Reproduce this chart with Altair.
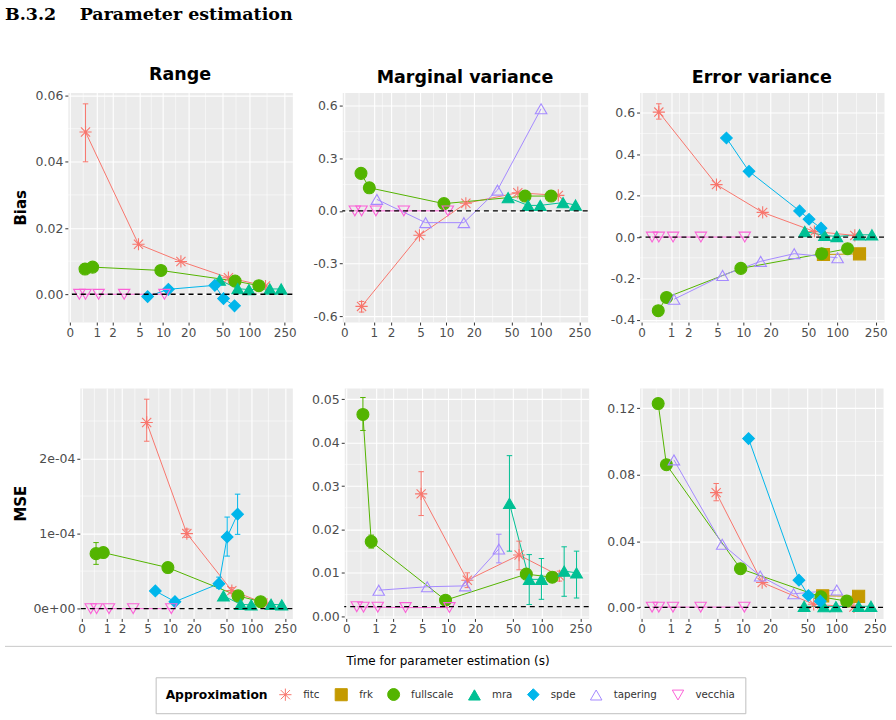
import altair as alt
import pandas as pd

# ---------------------------------------------------------------- categories
METHODS = ["fitc", "frk", "fullscale", "mra", "spde", "tapering", "vecchia"]
COLORS = ["#F8766D", "#C49A00", "#53B400", "#00C094", "#00B6EB", "#A58AFF", "#FB61D7"]
FILLS = ["transparent", "#C49A00", "#53B400", "#00C094", "#00B6EB", "transparent", "transparent"]
ASTERISK = "M-0.75,-0.75L0.75,0.75M-0.75,0.75L0.75,-0.75M0,-1L0,1M-1,0L1,0"
SHAPES = [ASTERISK, "square", "circle", "triangle-up", "diamond", "triangle-up", "triangle-down"]
SIZES = [150, 130, 165, 190, 120, 200, 190]

PARAMS = ["Range", "Marginal variance", "Error variance"]
METRICS = ["Bias", "MSE"]
X_TICKS = [0, 1, 2, 5, 10, 20, 50, 100, 250]
X_MINOR = [0.414, 1.449, 3.243, 7.124, 14.2, 31.7, 70.7, 158.2]

# ---------------------------------------------------------------- timings (s)
FITC_TIME = [0.5, 4.85, 16.4, 58, 152]
FRK_TIME = [72, 170]
FULLSCALE_TIME = [0.48, 0.8, 9.4, 69, 128]
MRA_TIME = [46, 74, 99, 170, 228]
SPDE_TIME = [6.4, 11.6, 40.6, 51, 68]
TAPERING_TIME = [1.15, 5.75, 15.6, 35.6, 101]
VECCHIA_TIME = [0.28, 0.5, 1.1, 3.05, 10.4]

# ---------------------------------------------------------------- fitc
FITC_BIAS_RANGE = [0.049, 0.0151, 0.0099, 0.0050, 0.0025]
FITC_BIAS_RANGE_CI = [(0.040, 0.0575), None, None, None, None]
FITC_BIAS_MARG = [-0.543, -0.139, 0.043, 0.103, 0.088]
FITC_BIAS_MARG_CI = [(-0.575, -0.515), None, None, None, None]
FITC_BIAS_ERR = [0.603, 0.253, 0.119, 0.027, 0.008]
FITC_BIAS_ERR_CI = [(0.569, 0.643), None, None, None, None]
FITC_MSE_RANGE = [None, 2.48e-4, 1.0e-4, 0.24e-4, 0.06e-4]
FITC_MSE_RANGE_CI = [None, (2.23e-4, 2.79e-4), (0.95e-4, 1.06e-4), (0.20e-4, 0.28e-4), None]
FITC_MSE_MARG = [None, 0.0282, 0.0083, 0.0141, 0.0093]
FITC_MSE_MARG_CI = [None, (0.0232, 0.0333), (0.0066, 0.0100), (0.0107, 0.0173), (0.0081, 0.0104)]
FITC_MSE_ERR = [None, 0.0692, 0.0151, 0.0020, 0.0004]
FITC_MSE_ERR_CI = [None, (0.0643, 0.0747), None, None, None]

# ---------------------------------------------------------------- frk
FRK_BIAS_ERR = [-0.084, -0.081]
FRK_MSE_ERR = [0.0071, 0.0068]

# ---------------------------------------------------------------- fullscale
FULLSCALE_BIAS_RANGE = [0.0076, 0.0082, 0.0072, 0.0040, 0.0026]
FULLSCALE_BIAS_MARG = [0.213, 0.131, 0.041, 0.084, 0.084]
FULLSCALE_BIAS_ERR = [-0.355, -0.291, -0.151, -0.080, -0.056]
FULLSCALE_MSE_RANGE = [0.733e-4, 0.747e-4, 0.547e-4, 0.17e-4, 0.093e-4]
FULLSCALE_MSE_RANGE_CI = [(0.59e-4, 0.88e-4), None, None, None, None]
FULLSCALE_MSE_MARG = [0.0465, 0.0172, 0.0037, 0.0097, 0.0090]
FULLSCALE_MSE_MARG_CI = [(0.0428, 0.0504), (0.0157, 0.0187), None, None, (0.0082, 0.0098)]
FULLSCALE_MSE_ERR = [0.1228, 0.0860, 0.0234, 0.0065, 0.0039]

# ---------------------------------------------------------------- mra
MRA_BIAS_RANGE = [0.0043, 0.0017, 0.0014, 0.0016, 0.0016]
MRA_BIAS_MARG = [0.075, 0.031, 0.031, 0.047, 0.033]
MRA_BIAS_ERR = [0.027, 0.008, 0.003, 0.011, 0.011]
MRA_MSE_RANGE = [0.17e-4, 0.058e-4, 0.05e-4, 0.058e-4, 0.05e-4]
MRA_MSE_MARG = [0.0260, 0.0085, 0.0085, 0.0104, 0.0100]
MRA_MSE_MARG_CI = [(0.015, 0.037), (0.0027, 0.0142), (0.0039, 0.0133), (0.0046, 0.0160), (0.0042, 0.0150)]
MRA_MSE_ERR = [0.0008, 0.0006, 0.0006, 0.0008, 0.0008]

# ---------------------------------------------------------------- spde
SPDE_BIAS_RANGE = [-0.0007, 0.0015, 0.0027, -0.0013, -0.0035]
SPDE_BIAS_ERR = [0.478, 0.317, 0.126, 0.086, 0.043]
SPDE_MSE_RANGE = [0.236e-4, 0.093e-4, 0.333e-4, 0.956e-4, 1.259e-4]
SPDE_MSE_RANGE_CI = [None, None, (0.27e-4, 0.42e-4), (0.70e-4, 1.22e-4), (0.99e-4, 1.525e-4)]
SPDE_MSE_ERR = [None, 0.1017, 0.0165, 0.0073, 0.0039]

# ---------------------------------------------------------------- tapering
TAPERING_BIAS_MARG = [0.065, -0.067, -0.067, 0.118, 0.580]
TAPERING_BIAS_ERR = [-0.300, -0.185, -0.117, -0.080, -0.100]
TAPERING_MSE_MARG = [0.0060, 0.0068, 0.0070, 0.0155, None]
TAPERING_MSE_MARG_CI = [None, None, None, (0.0123, 0.0189), None]
TAPERING_MSE_ERR = [0.0889, 0.0381, 0.0190, 0.0083, 0.0106]

# ---------------------------------------------------------------- vecchia
VECCHIA_BIAS_RANGE = [0.0, 0.0, 0.0, 0.0, 0.0]
VECCHIA_BIAS_MARG = [0.0, 0.0, 0.0, 0.0, 0.0]
VECCHIA_BIAS_ERR = [0.0, 0.0, 0.0, 0.0, 0.0]
VECCHIA_MSE_RANGE = [0.0, 0.0, 0.0, 0.0, 0.0]
VECCHIA_MSE_MARG = [0.0022, 0.0021, 0.0021, 0.0020, 0.0020]
VECCHIA_MSE_ERR = [0.0003, 0.0003, 0.0003, 0.0003, 0.0003]

# dashed reference level per panel
REF_LEVEL = {("Range", "Bias"): 0.0, ("Marginal variance", "Bias"): 0.0,
             ("Error variance", "Bias"): 0.0, ("Range", "MSE"): 0.0,
             ("Marginal variance", "MSE"): 0.0022, ("Error variance", "MSE"): 0.0002}

# ---------------------------------------------------------------- axes per panel
Y_DOMAIN = {("Range", "Bias"): [-0.0084, 0.0609],
            ("Marginal variance", "Bias"): [-0.632, 0.672],
            ("Error variance", "Bias"): [-0.41, 0.697],
            ("Range", "MSE"): [-1.3e-5, 2.94e-4],
            ("Marginal variance", "MSE"): [-0.0005, 0.0526],
            ("Error variance", "MSE"): [-0.0065, 0.1322]}
Y_TICKS = {("Range", "Bias"): [0, 0.02, 0.04, 0.06],
           ("Marginal variance", "Bias"): [-0.6, -0.3, 0, 0.3, 0.6],
           ("Error variance", "Bias"): [-0.4, -0.2, 0, 0.2, 0.4, 0.6],
           ("Range", "MSE"): [0, 1e-4, 2e-4],
           ("Marginal variance", "MSE"): [0, 0.01, 0.02, 0.03, 0.04, 0.05],
           ("Error variance", "MSE"): [0, 0.04, 0.08, 0.12]}
Y_MINOR = {("Range", "Bias"): [0.01, 0.03, 0.05],
           ("Marginal variance", "Bias"): [-0.45, -0.15, 0.15, 0.45],
           ("Error variance", "Bias"): [-0.3, -0.1, 0.1, 0.3, 0.5],
           ("Range", "MSE"): [0.5e-4, 1.5e-4, 2.5e-4],
           ("Marginal variance", "MSE"): [0.005, 0.015, 0.025, 0.035, 0.045],
           ("Error variance", "MSE"): [0.02, 0.06, 0.10]}
Y_LABEL_EXPR = {("Range", "Bias"): "replace(format(datum.value, '.2f'), '\u2212', '-')",
                ("Marginal variance", "Bias"): "replace(format(datum.value, '.1f'), '\u2212', '-')",
                ("Error variance", "Bias"): "replace(format(datum.value, '.1f'), '\u2212', '-')",
                ("Range", "MSE"): "datum.value == 0 ? '0e+00' : format(datum.value * 10000, '.0f') + 'e-04'",
                ("Marginal variance", "MSE"): "format(datum.value, '.2f')",
                ("Error variance", "MSE"): "format(datum.value, '.2f')"}

# ---------------------------------------------------------------- long table
SERIES = [
    ("fitc", FITC_TIME, "Range", "Bias", FITC_BIAS_RANGE, FITC_BIAS_RANGE_CI),
    ("fitc", FITC_TIME, "Marginal variance", "Bias", FITC_BIAS_MARG, FITC_BIAS_MARG_CI),
    ("fitc", FITC_TIME, "Error variance", "Bias", FITC_BIAS_ERR, FITC_BIAS_ERR_CI),
    ("fitc", FITC_TIME, "Range", "MSE", FITC_MSE_RANGE, FITC_MSE_RANGE_CI),
    ("fitc", FITC_TIME, "Marginal variance", "MSE", FITC_MSE_MARG, FITC_MSE_MARG_CI),
    ("fitc", FITC_TIME, "Error variance", "MSE", FITC_MSE_ERR, FITC_MSE_ERR_CI),
    ("frk", FRK_TIME, "Error variance", "Bias", FRK_BIAS_ERR, None),
    ("frk", FRK_TIME, "Error variance", "MSE", FRK_MSE_ERR, None),
    ("fullscale", FULLSCALE_TIME, "Range", "Bias", FULLSCALE_BIAS_RANGE, None),
    ("fullscale", FULLSCALE_TIME, "Marginal variance", "Bias", FULLSCALE_BIAS_MARG, None),
    ("fullscale", FULLSCALE_TIME, "Error variance", "Bias", FULLSCALE_BIAS_ERR, None),
    ("fullscale", FULLSCALE_TIME, "Range", "MSE", FULLSCALE_MSE_RANGE, FULLSCALE_MSE_RANGE_CI),
    ("fullscale", FULLSCALE_TIME, "Marginal variance", "MSE", FULLSCALE_MSE_MARG, FULLSCALE_MSE_MARG_CI),
    ("fullscale", FULLSCALE_TIME, "Error variance", "MSE", FULLSCALE_MSE_ERR, None),
    ("mra", MRA_TIME, "Range", "Bias", MRA_BIAS_RANGE, None),
    ("mra", MRA_TIME, "Marginal variance", "Bias", MRA_BIAS_MARG, None),
    ("mra", MRA_TIME, "Error variance", "Bias", MRA_BIAS_ERR, None),
    ("mra", MRA_TIME, "Range", "MSE", MRA_MSE_RANGE, None),
    ("mra", MRA_TIME, "Marginal variance", "MSE", MRA_MSE_MARG, MRA_MSE_MARG_CI),
    ("mra", MRA_TIME, "Error variance", "MSE", MRA_MSE_ERR, None),
    ("spde", SPDE_TIME, "Range", "Bias", SPDE_BIAS_RANGE, None),
    ("spde", SPDE_TIME, "Error variance", "Bias", SPDE_BIAS_ERR, None),
    ("spde", SPDE_TIME, "Range", "MSE", SPDE_MSE_RANGE, SPDE_MSE_RANGE_CI),
    ("spde", SPDE_TIME, "Error variance", "MSE", SPDE_MSE_ERR, None),
    ("tapering", TAPERING_TIME, "Marginal variance", "Bias", TAPERING_BIAS_MARG, None),
    ("tapering", TAPERING_TIME, "Error variance", "Bias", TAPERING_BIAS_ERR, None),
    ("tapering", TAPERING_TIME, "Marginal variance", "MSE", TAPERING_MSE_MARG, TAPERING_MSE_MARG_CI),
    ("tapering", TAPERING_TIME, "Error variance", "MSE", TAPERING_MSE_ERR, None),
    ("vecchia", VECCHIA_TIME, "Range", "Bias", VECCHIA_BIAS_RANGE, None),
    ("vecchia", VECCHIA_TIME, "Marginal variance", "Bias", VECCHIA_BIAS_MARG, None),
    ("vecchia", VECCHIA_TIME, "Error variance", "Bias", VECCHIA_BIAS_ERR, None),
    ("vecchia", VECCHIA_TIME, "Range", "MSE", VECCHIA_MSE_RANGE, None),
    ("vecchia", VECCHIA_TIME, "Marginal variance", "MSE", VECCHIA_MSE_MARG, None),
    ("vecchia", VECCHIA_TIME, "Error variance", "MSE", VECCHIA_MSE_ERR, None),
]

records = []
for method, times, param, metric, values, cis in SERIES:
    for i, (t, v) in enumerate(zip(times, values)):
        if v is None:
            continue
        ci = cis[i] if cis else None
        records.append({
            "approx": method, "order": METHODS.index(method), "time": t,
            "param": param, "metric": metric, "value": v,
            "lo": ci[0] if ci else None, "hi": ci[1] if ci else None,
        })
df = pd.DataFrame(records).sort_values(["order", "time"]).reset_index(drop=True)

# ---------------------------------------------------------------- shared encodings
FONT = "DejaVu Sans"
LEGEND_TITLE = "Approximation"
x_scale = alt.Scale(type="symlog", constant=1, domain=[-0.05, 304], nice=False, zero=False)
stroke_scale = alt.Scale(domain=METHODS, range=COLORS)
fill_scale = alt.Scale(domain=METHODS, range=FILLS)
shape_scale = alt.Scale(domain=METHODS, range=SHAPES)
size_scale = alt.Scale(domain=METHODS, range=SIZES)

legend = alt.Legend(
    title=LEGEND_TITLE, orient="none", legendX=151, legendY=586, direction="horizontal",
    titleOrient="left", titleFontSize=12.3, titleFontWeight="bold", titleColor="black",
    labelFontSize=10.3, labelColor="#333333", symbolSize=150, symbolStrokeWidth=1,
    labelOffset=11, columnPadding=12, padding=10, strokeColor="#BFBFBF",
    titlePadding=10, cornerRadius=0,
)

x_axis = alt.Axis(values=X_TICKS, format="d", grid=True, gridColor="white", gridWidth=1.1,
                  domain=False, tickColor="#333333", tickSize=3, labelFontSize=12,
                  labelColor="#4D4D4D", labelPadding=2, labelOverlap=False,
                  labelFlush=False, title=None)

ROW_W = {"Bias": [225, 246, 245], "MSE": [213, 245, 244]}
ROW_H = {"Bias": 230, "MSE": 231}
# tick-label band on the left of each panel
Y_EXTENT = {"Bias": [34, 38, 41], "MSE": [46, 40, 40]}
COL_GAP = 6


def transparent_view():
    return alt.ViewBackground(fill="transparent", stroke="transparent")


def spacer(height):
    # one-pixel cell that anchors the left edge of a row
    return alt.Chart(pd.DataFrame({"v": [0]})).mark_rule(
        strokeWidth=0, strokeOpacity=0).encode(
        x=alt.value(0), x2=alt.value(0), y=alt.value(0), y2=alt.value(0)
    ).properties(width=1, height=height, view=transparent_view())


def panel(param, metric, col):
    key = (param, metric)
    d = df[(df.param == param) & (df.metric == metric)]
    y_scale = alt.Scale(domain=Y_DOMAIN[key], nice=False, zero=False)
    ext = Y_EXTENT[metric][col]
    y_axis = alt.Axis(values=Y_TICKS[key], labelExpr=Y_LABEL_EXPR[key], grid=True,
                      gridColor="white", gridWidth=1.1, domain=False,
                      tickColor="#333333", tickSize=3, labelFontSize=12.5,
                      labelColor="#4D4D4D", labelPadding=2,
                      minExtent=ext, maxExtent=ext,
                      title=metric if col == 0 else None, titleFontSize=15,
                      titleFontWeight="bold", titleColor="black", titlePadding=5)

    def xq(field):
        return alt.X(field, scale=x_scale, axis=x_axis)

    def yq(field):
        return alt.Y(field, scale=y_scale, axis=y_axis)

    stroke_enc = alt.Stroke("approx:N", scale=stroke_scale, legend=legend)

    minor_x = alt.Chart(pd.DataFrame({"time": X_MINOR})).mark_rule(
        color="white", strokeWidth=0.55).encode(x=xq("time:Q"))
    minor_y = alt.Chart(pd.DataFrame({"value": Y_MINOR[key]})).mark_rule(
        color="white", strokeWidth=0.55).encode(y=yq("value:Q"))

    base = alt.Chart(d)
    lines = base.mark_line(strokeWidth=1).encode(
        x=xq("time:Q"), y=yq("value:Q"), stroke=stroke_enc, order="time:Q")
    bars_src = base.transform_filter("isValid(datum.lo)")
    bars = bars_src.mark_rule(strokeWidth=1).encode(
        x=xq("time:Q"), y=yq("lo:Q"), y2="hi:Q", stroke=stroke_enc)
    cap_lo = bars_src.mark_point(shape="stroke", size=30, strokeWidth=1, opacity=1).encode(
        x=xq("time:Q"), y=yq("lo:Q"), stroke=stroke_enc)
    cap_hi = bars_src.mark_point(shape="stroke", size=30, strokeWidth=1, opacity=1).encode(
        x=xq("time:Q"), y=yq("hi:Q"), stroke=stroke_enc)
    points = base.mark_point(strokeWidth=1.1, opacity=1).encode(
        x=xq("time:Q"), y=yq("value:Q"),
        stroke=stroke_enc,
        fill=alt.Fill("approx:N", scale=fill_scale, legend=legend),
        shape=alt.Shape("approx:N", scale=shape_scale, legend=legend),
        size=alt.Size("approx:N", scale=size_scale, legend=None),
    )
    ref = alt.Chart(pd.DataFrame({"value": [REF_LEVEL[key]]})).mark_rule(
        color="black", strokeWidth=1.3, strokeDash=[5, 4]).encode(y=yq("value:Q"))

    layered = alt.layer(minor_x, minor_y, lines, bars, cap_lo, cap_hi, points, ref).properties(
        width=ROW_W[metric][col], height=ROW_H[metric])
    if metric == "Bias":
        layered = layered.properties(title=alt.TitleParams(
            text=param, anchor="middle", frame="group", fontSize=17.5,
            fontWeight="bold", color="black", font=FONT, offset=6))
    return layered


row_bias = alt.hconcat(spacer(ROW_H["Bias"]),
                       *[panel(p, "Bias", i) for i, p in enumerate(PARAMS)], spacing=COL_GAP)
row_mse = alt.hconcat(spacer(ROW_H["MSE"]),
                      *[panel(p, "MSE", i) for i, p in enumerate(PARAMS)], spacing=COL_GAP)

# separator rule, shared x-axis title, and room for the legend below
X_TITLE = "Time for parameter estimation (s)"
foot_src = alt.Chart(pd.DataFrame({"label": [X_TITLE]}))
foot = alt.layer(
    foot_src.mark_rule(color="#C8C8C8", strokeWidth=1).encode(
        x=alt.value(0), x2=alt.value(889), y=alt.value(0)),
    foot_src.mark_text(fontSize=12, font=FONT, color="black", baseline="middle").encode(
        x=alt.value(444), y=alt.value(15), text="label:N"),
).properties(width=889, height=68, view=transparent_view())

lower = alt.vconcat(row_mse, foot, spacing=10)

chart = alt.vconcat(
    row_bias, lower, spacing=48,
    title=alt.TitleParams(text="B.3.2\u2003 Parameter estimation", anchor="start",
                          font="DejaVu Serif", fontSize=17.5, fontWeight="bold",
                          color="black", dx=1, offset=42),
    padding={"left": 4, "top": 5, "right": 3, "bottom": 2},
).configure(font=FONT).configure_view(fill="#EBEBEB", stroke="transparent")

chart.save("out.html", embed_options={"renderer": "svg", "actions": False})
